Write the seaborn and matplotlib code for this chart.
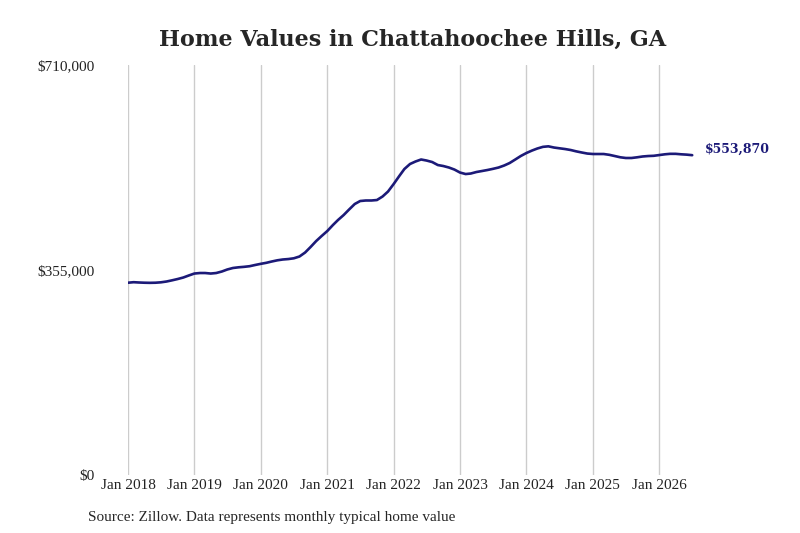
import matplotlib
matplotlib.use("Agg")
import matplotlib.pyplot as plt
import seaborn as sns
import pandas as pd

title = "Home Values in Chattahoochee Hills, GA"
source = "Source: Zillow. Data represents monthly typical home value"

start_month = "2018-01-01"
home_values = [
    333000, 333900, 333400, 333000, 332800, 333000, 333700, 335100, 337200, 339400, 342000, 345500,
    348900, 349800, 349800, 348900, 349800, 352400, 355900, 358500, 359700, 360500, 361600, 363700,
    365700, 367500, 369700, 371800, 373200, 374000, 375300, 378400, 385300, 394800, 405200, 413900,
    422500, 432900, 441600, 450200, 459800, 469300, 474500, 475400, 475400, 476200, 482300, 490900,
    503900, 517800, 529900, 538600, 542900, 546400, 544600, 542000, 536800, 535100, 532500, 529000,
    523800, 521200, 522100, 524700, 526400, 528200, 530200, 532500, 536000, 540300, 546400, 552400,
    557600, 561900, 565400, 568300, 569200, 567100, 565800, 564500, 562800, 560500, 558500, 556700,
    555900, 555900, 555900, 554500, 552400, 550200, 549000, 549000, 550200, 551600, 552400, 552800,
    554100, 555400, 556200, 556200, 555400, 554800, 553870,
]
tick_years = [2018, 2019, 2020, 2021, 2022, 2023, 2024, 2025, 2026]
y_ticks = [0, 355000, 710000]

line_color = "#1c1a78"

df = pd.DataFrame({
    "date": pd.date_range(start_month, periods=len(home_values), freq="MS"),
    "value": home_values,
})

sns.set_style("white")
plt.rcParams["font.family"] = ["Liberation Serif", "DejaVu Serif"]

fig = plt.figure(figsize=(8, 5.33), dpi=100)
ax = fig.add_axes([0.16, 0.1088, 0.7123, 0.7692])

sns.lineplot(data=df, x="date", y="value", ax=ax, color=line_color, linewidth=1.9)

ax.set_xlim(pd.Timestamp("2018-01-01"), pd.Timestamp("2026-08-01"))
ax.set_ylim(0, 710000)

xt = [pd.Timestamp(f"{y}-01-01") for y in tick_years]
ax.set_xticks(xt)
ax.set_xticklabels([f"Jan {y}" for y in tick_years], fontsize=11, color="#222222")
ax.set_yticks(y_ticks)
ax.set_yticklabels([f"${v:,.0f}" for v in y_ticks], fontsize=11, color="#222222")
ax.tick_params(axis="x", length=0, pad=3)
ax.tick_params(axis="y", length=0, pad=24)

ax.grid(axis="x", color="#cccccc", linewidth=1)
ax.grid(axis="y", visible=False)
for s in ax.spines.values():
    s.set_visible(False)
ax.set_xlabel("")
ax.set_ylabel("")

last = df.iloc[-1]
ax.annotate(f"${last['value']:,.0f}", xy=(last["date"], last["value"]),
            xytext=(9, 4), textcoords="offset points", va="center", ha="left",
            fontsize=9, fontweight="bold", color=line_color, family="DejaVu Serif",
            annotation_clip=False)

ax.set_title(title, fontsize=16, fontweight="bold", family="DejaVu Serif", pad=14)
fig.text(0.11, 0.03, source, fontsize=11, ha="left", va="center")

fig.savefig("out.png", dpi=100)
